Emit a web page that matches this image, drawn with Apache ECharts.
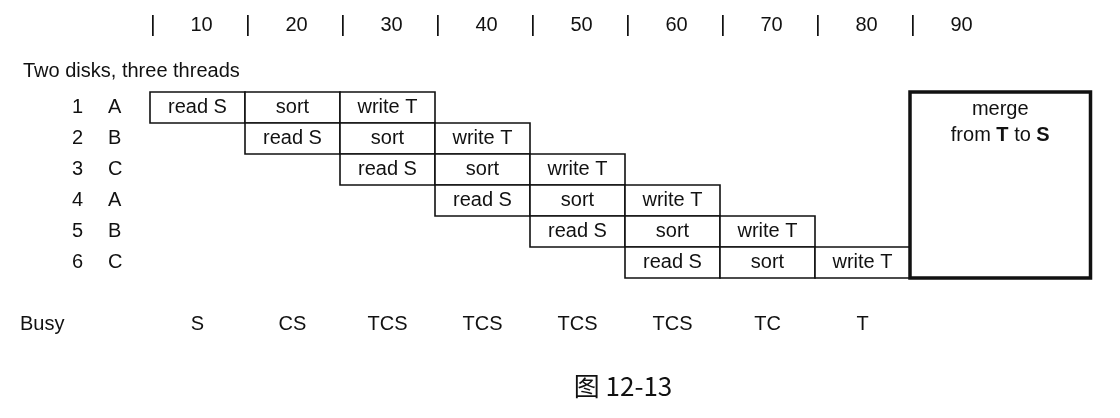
<!doctype html>
<html>
<head>
<meta charset="utf-8">
<title>Two disks, three threads</title>
<script src="https://cdn.jsdelivr.net/npm/echarts@6/dist/echarts.min.js"></script>
<style>
  html, body { margin: 0; padding: 0; background: #fff; }
  #main { width: 1120px; height: 418px; }
</style>
</head>
<body>
<div id="main"></div>
<script>
var rowNums = ['1', '2', '3', '4', '5', '6', '', 'Busy'];
var rowThreads = ['A', 'B', 'C', 'A', 'B', 'C', '', ''];
// [row, start, end, text]
var tasks = [];
var steps = ['read S', 'sort', 'write T'];
var taskStarts = [0, 10, 20, 30, 40, 50];
taskStarts.forEach(function (s, r) {
    steps.forEach(function (t, k) {
        tasks.push([r, s + k * 10, s + k * 10 + 10, t]);
    });
});
var busy = ['S', 'CS', 'TCS', 'TCS', 'TCS', 'TCS', 'TC', 'T'];
var merge = [80, 99, 0, 5];
var font = 'Liberation Sans, Arial, sans-serif';

var myChart = echarts.init(document.getElementById('main'));

var option = {
    animation: false,
    backgroundColor: '#fff',
    title: [{
        text: 'Two disks, three threads',
        left: 18, top: 56,
        textStyle: { fontFamily: font, fontSize: 20, fontWeight: 'normal', color: '#111' }
    }, {
        text: '图 12-13',
        left: 618, top: 368, textAlign: 'center',
        textStyle: { fontFamily: 'Noto Sans CJK SC', fontSize: 26, fontWeight: 'normal', color: '#111' }
    }],
    grid: { left: 150, right: 20, top: 92, height: 248 },
    xAxis: {
        type: 'value', position: 'top', min: 0, max: 100, interval: 10,
        axisLine: { show: false }, axisTick: { show: false }, splitLine: { show: false },
        axisLabel: {
            margin: 56, align: 'left',
            formatter: function (v) {
                if (v >= 90) return '';
                return '{p||}{n|' + (v + 10) + '}';
            },
            rich: {
                p: { fontFamily: font, fontSize: 22, width: 8, color: '#111' },
                n: { fontFamily: font, fontSize: 20, width: 87, align: 'center', color: '#111' }
            }
        }
    },
    yAxis: {
        type: 'category', inverse: true, data: rowNums,
        axisLine: { show: false }, axisTick: { show: false },
        axisLabel: {
            align: 'left', margin: 130,
            formatter: function (v, i) {
                if (v === 'Busy') return '{b|Busy}';
                if (v === '') return '';
                return '{n|' + v + '}{l|' + rowThreads[i] + '}';
            },
            rich: {
                b: { fontFamily: font, fontSize: 20, color: '#111' },
                n: { fontFamily: font, fontSize: 20, padding: [0, 0, 0, 52], color: '#111' },
                l: { fontFamily: font, fontSize: 20, padding: [0, 0, 0, 25], color: '#111' }
            }
        }
    },
    series: [{
        type: 'custom',
        data: tasks,
        renderItem: function (params, api) {
            var p0 = api.coord([api.value(1), api.value(0)]);
            var p1 = api.coord([api.value(2), api.value(0)]);
            var h = api.size([0, 1])[1];
            return {
                type: 'rect',
                shape: { x: p0[0], y: p0[1] - h / 2, width: p1[0] - p0[0], height: h },
                style: {
                    fill: '#fff', stroke: '#111', lineWidth: 1.6,
                    text: tasks[params.dataIndex][3],
                    textFill: '#111', fontSize: 20, fontFamily: font
                }
            };
        }
    }, {
        type: 'custom',
        data: [merge],
        renderItem: function (params, api) {
            var p0 = api.coord([api.value(0), api.value(2)]);
            var p1 = api.coord([api.value(1), api.value(3)]);
            var h = api.size([0, 1])[1];
            return {
                type: 'rect',
                shape: { x: p0[0], y: p0[1] - h / 2, width: p1[0] - p0[0], height: p1[1] - p0[1] + h },
                style: { fill: '#fff', stroke: '#111', lineWidth: 3.5 },
                textContent: {
                    style: {
                        text: '{r|merge}\n{r|from }{bb|T}{r| to }{bb|S}',
                        fill: '#111',
                        rich: {
                            r: { fontFamily: font, fontSize: 20, fill: '#111', lineHeight: 26 },
                            bb: { fontFamily: font, fontSize: 20, fontWeight: 'bold', fill: '#111', lineHeight: 26 }
                        },
                        align: 'center'
                    }
                },
                textConfig: { position: 'insideTop', distance: 6, inside: false }
            };
        }
    }, {
        type: 'custom',
        data: busy.map(function (b, i) { return [i * 10 + 5, 7]; }),
        renderItem: function (params, api) {
            var p = api.coord([api.value(0), api.value(1)]);
            return {
                type: 'text',
                x: p[0], y: p[1],
                style: {
                    text: busy[params.dataIndex], fontFamily: font, fontSize: 20, fill: '#111',
                    align: 'center', verticalAlign: 'middle'
                }
            };
        }
    }]
};
myChart.setOption(option);
</script>
</body>
</html>
